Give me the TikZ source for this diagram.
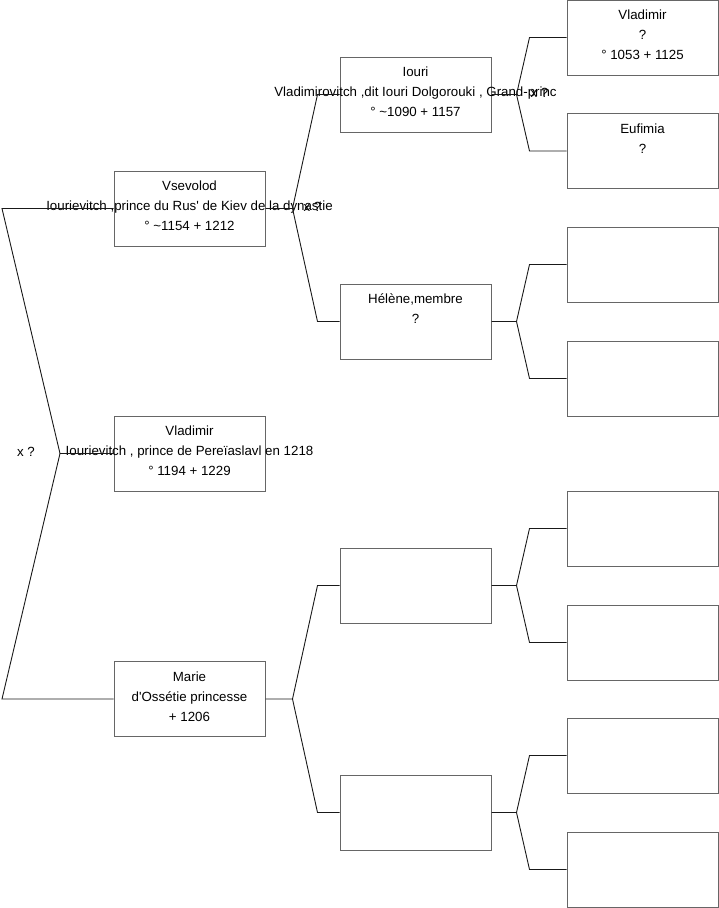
\documentclass[tikz,border=0pt]{standalone}
\usepackage{fontspec}
\setmainfont{Liberation Sans}
\usetikzlibrary{positioning,calc}
\tikzset{
  pbox/.style={draw=black!60, line width=1pt, minimum width=151pt, minimum height=75pt, inner sep=0pt},
  ptxt/.style={anchor=north, align=center, inner sep=0pt, font=\fontsize{13.3}{20}\selectfont},
  link/.style={draw=black!90, line width=0.9pt},
  xlab/.style={font=\fontsize{13.3}{15}\selectfont, inner sep=0pt},
}

\begin{document}
\begin{tikzpicture}[x=1pt, y=-1pt]
    \useasboundingbox (0,0) rectangle (719,908);
    % generation 1
    \node[pbox] (vsevolod) at (189.5,208.5) {};
    \node[pbox] (vladimir) at (189.5,453.5) {};
    \node[pbox] (marie) at (189.5,699) {};
    % generation 2
    \node[pbox] (iouri) at (415.5,94.5) {};
    \node[pbox] (helene) at (415.5,321.5) {};
    \node[pbox] (m1) at (415.5,585.5) {};
    \node[pbox] (m2) at (415.5,812.5) {};
    % generation 3
    \foreach \n/\y in {g1/37.5, g2/151, g3/264.5, g4/378.5, g5/528.5, g6/642.5, g7/755.5, g8/869.5}
      \node[pbox] (\n) at (642.5,\y) {};
    % texts
    \node[ptxt] (vsevolod-t) at ($(vsevolod.north)+(0,10.5)$)
      {Vsevolod\\Iourievitch ,prince du Rus\textquotesingle{} de Kiev de la dynastie\\° \textasciitilde1154 + 1212};
    \node[ptxt] (vladimir-t) at ($(vladimir.north)+(0,10.5)$)
      {Vladimir\\Iourievitch , prince de Pereïaslavl en 1218\\° 1194 + 1229};
    \node[ptxt] (marie-t) at ($(marie.north)+(0,10.5)$)
      {Marie\\d\textquotesingle{}Ossétie princesse\\+ 1206};
    \node[ptxt] (iouri-t) at ($(iouri.north)+(0,10.5)$)
      {Iouri\\Vladimirovitch ,dit Iouri Dolgorouki , Grand-princ\\° \textasciitilde1090 + 1157};
    \node[ptxt] (helene-t) at ($(helene.north)+(0,10.5)$) {Hélène,membre\\?};
    \node[ptxt] (g1-t) at ($(g1.north)+(0,10.5)$) {Vladimir\\?\\° 1053 + 1125};
    \node[ptxt] (g2-t) at ($(g2.north)+(0,10.5)$) {Eufimia\\?};
    % root fork
    \coordinate (root) at (60,453.5);
    \draw[link] (vsevolod.west) -- (2,208.5) -- (root) -- (2,699) -- (marie.west);
    \draw[link] (root) -- (vladimir.west);
    \node[xlab] (root-x) at (26,452) {x ?};
    % forks to the parents
    \foreach \p/\a/\b/\d/\e in {vsevolod/iouri/helene/27/22, marie/m1/m2/27/22,
        iouri/g1/g2/25/37, helene/g3/g4/25/37, m1/g5/g6/25/37, m2/g7/g8/25/37} {
      \coordinate (v-\p) at ($(\p.east)+(\d,0)$);
      \draw[link] (\p.east) -- (v-\p) -- ($(\a.west)+(-\e,0)$) -- (\a.west);
      \draw[link] (v-\p) -- ($(\b.west)+(-\e,0)$) -- (\b.west);
    }
    \node[xlab] (vsevolod-x) at ($(v-vsevolod)+(20,-2)$) {x ?};
    \node[xlab] (iouri-x) at ($(v-iouri)+(23,-2)$) {x ?};
\end{tikzpicture}
\end{document}
